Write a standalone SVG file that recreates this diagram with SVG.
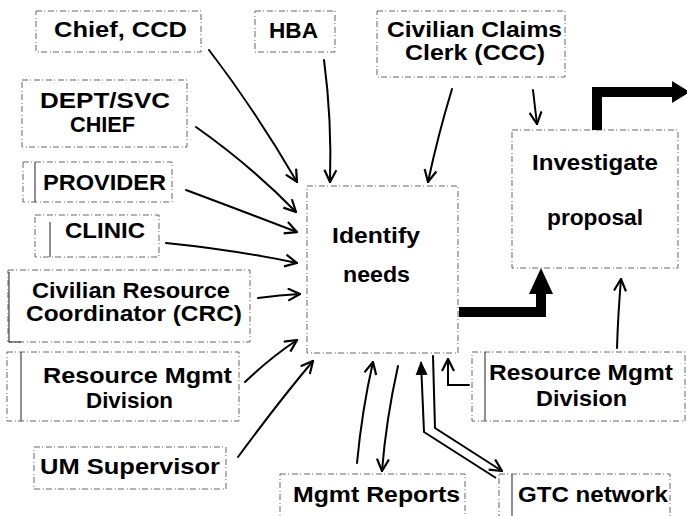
<svg xmlns="http://www.w3.org/2000/svg" width="687" height="516" viewBox="0 0 687 516">
  <style>
    .box { fill: #fff; stroke: #666; stroke-width: 1; stroke-dasharray: 6 2 1 3; }
    .bar { stroke: #444; stroke-width: 1.2; fill: none; }
    .lbl { font-family: "Liberation Sans", Arial, sans-serif; font-weight: bold; font-size: 22.5px; fill: #000; }
    .arr { fill: none; stroke: #000; stroke-width: 2; stroke-linecap: round; marker-end: url(#v); }
    .thick { fill: none; stroke: #000; stroke-width: 10; stroke-linejoin: miter; }
  </style>
  <defs>
    <marker id="v" viewBox="0 0 14 14" refX="13" refY="7" markerWidth="14" markerHeight="14" orient="auto" markerUnits="userSpaceOnUse">
      <path d="M1,1 L13,7 L1,13" fill="none" stroke="#000" stroke-width="2.2" stroke-linejoin="miter"/>
    </marker>
    <marker id="solid" viewBox="0 0 14 14" refX="13" refY="7" markerWidth="14" markerHeight="14" orient="auto" markerUnits="userSpaceOnUse">
      <path d="M0,1 L14,7 L0,13 Z" fill="#000"/>
    </marker>
  </defs>

  <rect width="687" height="516" fill="#fff"/>

  <!-- source / sink boxes -->
  <g id="chief-ccd">
    <rect class="box" x="36" y="11" width="165" height="41"/>
    <text class="lbl" x="54" y="37" textLength="133" lengthAdjust="spacingAndGlyphs">Chief, CCD</text>
  </g>
  <g id="hba">
    <rect class="box" x="255" y="11" width="80" height="41"/>
    <text class="lbl" x="269" y="38" textLength="49" lengthAdjust="spacingAndGlyphs">HBA</text>
  </g>
  <g id="ccc">
    <rect class="box" x="377" y="11" width="188" height="66"/>
    <text class="lbl" x="387" y="37" textLength="175" lengthAdjust="spacingAndGlyphs">Civilian Claims</text>
    <text class="lbl" x="405" y="60" textLength="140" lengthAdjust="spacingAndGlyphs">Clerk (CCC)</text>
  </g>
  <g id="dept-svc-chief">
    <rect class="box" x="22" y="80" width="165" height="67"/>
    <text class="lbl" x="40" y="108" textLength="130" lengthAdjust="spacingAndGlyphs">DEPT/SVC</text>
    <text class="lbl" x="70" y="132" textLength="65" lengthAdjust="spacingAndGlyphs">CHIEF</text>
  </g>
  <g id="provider">
    <rect class="box" x="23" y="162" width="149" height="40"/>
    <line class="bar" x1="35" y1="162" x2="35" y2="202"/>
    <text class="lbl" x="43" y="190" textLength="123" lengthAdjust="spacingAndGlyphs">PROVIDER</text>
  </g>
  <g id="clinic">
    <rect class="box" x="35" y="215" width="124" height="42"/>
    <line class="bar" x1="50" y1="222" x2="50" y2="257"/>
    <text class="lbl" x="65" y="238" textLength="80" lengthAdjust="spacingAndGlyphs">CLINIC</text>
  </g>
  <g id="crc">
    <rect class="box" x="8" y="270" width="242" height="72"/>
    <line class="bar" x1="9" y1="272" x2="9" y2="342"/>
    <line class="bar" x1="9" y1="342" x2="21" y2="342"/>
    <text class="lbl" x="32" y="298" textLength="198" lengthAdjust="spacingAndGlyphs">Civilian Resource</text>
    <text class="lbl" x="26" y="321" textLength="216" lengthAdjust="spacingAndGlyphs">Coordinator (CRC)</text>
  </g>
  <g id="rmd-left">
    <rect class="box" x="7" y="352" width="232" height="69"/>
    <line class="bar" x1="21" y1="352" x2="21" y2="421"/>
    <text class="lbl" x="43" y="383" textLength="189" lengthAdjust="spacingAndGlyphs">Resource Mgmt</text>
    <text class="lbl" x="86" y="408" textLength="87" lengthAdjust="spacingAndGlyphs">Division</text>
  </g>
  <g id="um-supervisor">
    <rect class="box" x="34" y="447" width="192" height="42"/>
    <text class="lbl" x="40" y="474" textLength="180" lengthAdjust="spacingAndGlyphs">UM Supervisor</text>
  </g>
  <g id="rmd-right">
    <rect class="box" x="472" y="352" width="213" height="69"/>
    <line class="bar" x1="485" y1="352" x2="485" y2="421"/>
    <text class="lbl" x="489" y="380" textLength="184" lengthAdjust="spacingAndGlyphs">Resource Mgmt</text>
    <text class="lbl" x="536" y="406" textLength="91" lengthAdjust="spacingAndGlyphs">Division</text>
  </g>
  <g id="mgmt-reports">
    <rect class="box" x="280" y="474" width="185" height="50"/>
    <text class="lbl" x="293" y="502" textLength="167" lengthAdjust="spacingAndGlyphs">Mgmt Reports</text>
  </g>
  <g id="gtc-network">
    <rect class="box" x="499" y="474" width="171" height="50"/>
    <line class="bar" x1="512" y1="474" x2="512" y2="516"/>
    <text class="lbl" x="518" y="502" textLength="150" lengthAdjust="spacingAndGlyphs">GTC network</text>
  </g>

  <!-- process boxes -->
  <g id="identify-needs">
    <rect class="box" x="307" y="186" width="151" height="167"/>
    <text class="lbl" x="332" y="243" textLength="88" lengthAdjust="spacingAndGlyphs">Identify</text>
    <text class="lbl" x="343" y="282" textLength="67" lengthAdjust="spacingAndGlyphs">needs</text>
  </g>
  <g id="investigate-proposal">
    <rect class="box" x="512" y="130" width="166" height="138"/>
    <text class="lbl" x="532" y="170" textLength="126" lengthAdjust="spacingAndGlyphs">Investigate</text>
    <text class="lbl" x="547" y="225" textLength="96" lengthAdjust="spacingAndGlyphs">proposal</text>
  </g>

  <!-- connectors -->
  <g id="connectors">
    <path class="arr" d="M209,50 Q255,110 297,182"/>
    <path class="arr" d="M324,60 Q332,120 330,182"/>
    <path class="arr" d="M196,127 Q250,165 296,212"/>
    <path class="arr" d="M186,190 Q245,212 297,232"/>
    <path class="arr" d="M166,243 Q235,250 297,263"/>
    <path class="arr" d="M258,298 Q280,295 300,294"/>
    <path class="arr" d="M245,382 Q270,358 297,340"/>
    <path class="arr" d="M238,457 Q280,400 313,361"/>
    <path class="arr" d="M452,89 Q438,135 428,182"/>
    <path class="arr" d="M533,90 Q535,108 537,124"/>
    <path class="arr" d="M617,348 Q618,315 621,279"/>
    <path class="arr" d="M357,463 Q362,410 373,362"/>
    <path class="arr" d="M398,366 Q386,420 382,471"/>
    <path class="arr" d="M469,385 L448,385 L448,359"/>
    <!-- two-way link with the GTC network -->
    <path fill="none" stroke="#000" stroke-width="2" marker-end="url(#solid)" d="M496,478 L424,432 L421,362"/>
    <path class="arr" d="M433,356 L435,428 L502,471"/>
    <!-- main flow -->
    <path class="thick" d="M459,312 H541 V292"/>
    <polygon points="529,294 553,294 541,268" fill="#000"/>
    <path class="thick" stroke-width="9" d="M597,130 V92 H674"/>
    <polygon points="672,81 672,103 690,92" fill="#000"/>
  </g>
</svg>
